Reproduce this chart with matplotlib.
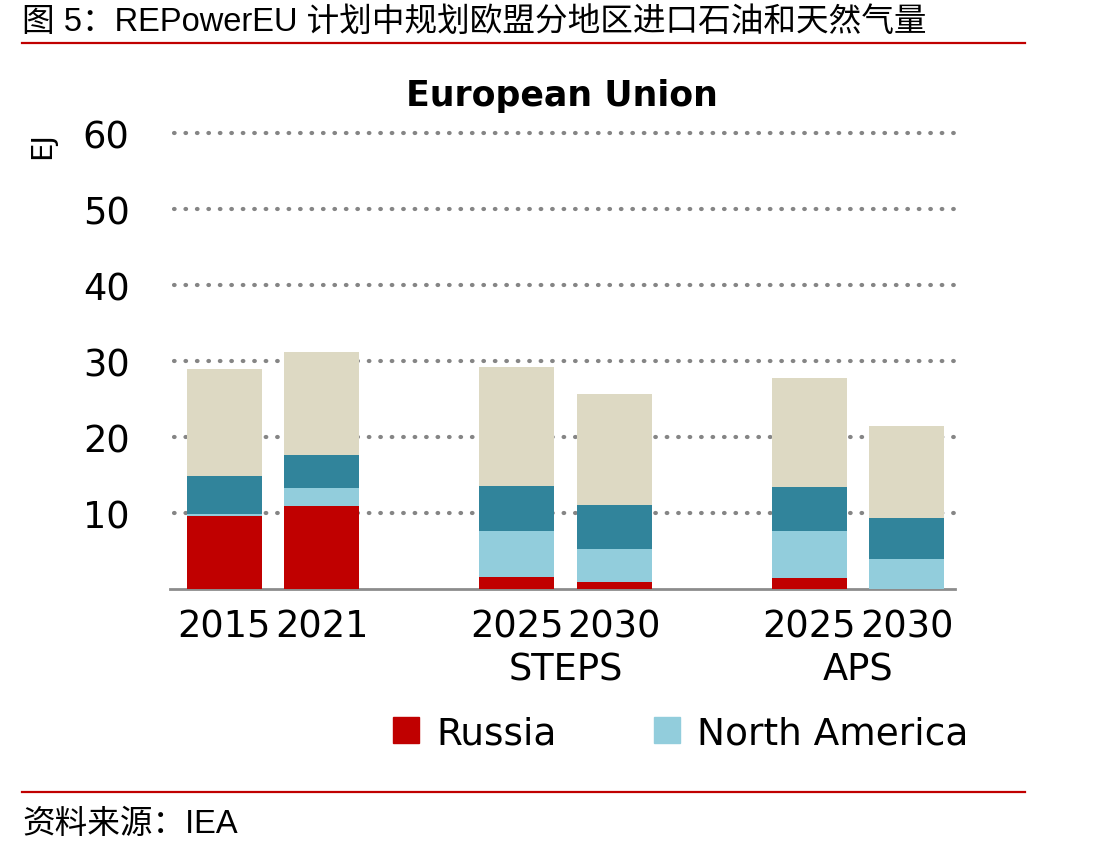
import matplotlib.pyplot as plt
from matplotlib.lines import Line2D
from matplotlib.patches import Patch

# data (EJ)
years = ["2015", "2021", "2025", "2030", "2025", "2030"]
groups = ["", "", "STEPS", "", "APS", ""]
xpos = [0, 1, 3, 4, 6, 7]
russia = [9.6, 10.9, 1.6, 0.9, 1.4, 0.0]
north_america = [0.3, 2.4, 6.0, 4.4, 6.2, 3.9]
other1 = [5.0, 4.3, 6.0, 5.8, 5.8, 5.4]
other2 = [14.0, 13.6, 15.6, 14.6, 14.4, 12.1]

c_russia = "#C00000"
c_na = "#92CDDC"
c_o1 = "#31849B"
c_o2 = "#DDD9C3"

plt.rcParams["font.family"] = ["DejaVu Sans"]

fig = plt.figure(figsize=(10.96, 8.54), dpi=100)
ax = fig.add_axes([0.155, 0.309, 0.716, 0.534])

w = 0.77
b1 = [r + n for r, n in zip(russia, north_america)]
b2 = [b + o for b, o in zip(b1, other1)]
ax.bar(xpos, russia, w, color=c_russia, zorder=3)
ax.bar(xpos, north_america, w, bottom=russia, color=c_na, zorder=3)
ax.bar(xpos, other1, w, bottom=b1, color=c_o1, zorder=3)
ax.bar(xpos, other2, w, bottom=b2, color=c_o2, zorder=3)

ax.set_xlim(-0.56, 7.49)
ax.set_ylim(0, 60)
ax.set_yticks([10, 20, 30, 40, 50, 60])
for v in [10, 20, 30, 40, 50, 60]:
    ax.axhline(v, color="#858585", linewidth=3.0, linestyle=(0, (0.15, 2.6)),
               dash_capstyle="round", zorder=1, xmin=0.005, xmax=1.0,
               clip_on=False)
ax.tick_params(axis="y", length=0, labelsize=26.5, pad=29)
ax.tick_params(axis="x", length=0, labelsize=26.5, pad=13)
ax.set_xticks(xpos)
ax.set_xticklabels(years)
for s in ["top", "right", "left"]:
    ax.spines[s].set_visible(False)
ax.spines["bottom"].set_color("#8c8c8c")
ax.spines["bottom"].set_linewidth(2)

for x, g in zip(xpos, groups):
    if g:
        ax.text(x + 0.5, -0.175, g, transform=ax.get_xaxis_transform(),
                ha="center", va="center", fontsize=26.5)

ax.set_title("European Union", fontsize=25, fontweight="bold", pad=20)
fig.text(0.038, 0.83, "EJ", rotation=90, fontsize=21, ha="center", va="center")

handles = [Patch(color=c_russia), Patch(color=c_na)]
fig.legend(handles, ["Russia", "North America"], loc="center",
           bbox_to_anchor=(0.621, 0.14), ncol=2, frameon=False, fontsize=27,
           handlelength=0.7, handleheight=0.7, handletextpad=0.45,
           columnspacing=2.6)

# header and footer
cjk = ["Liberation Sans", "Noto Sans CJK SC", "DejaVu Sans"]
fig.text(0.02, 0.974, "图 5：REPowerEU 计划中规划欧盟分地区进口石油和天然气量",
         fontsize=23.5, ha="left", va="center", family=cjk)
fig.add_artist(Line2D([0.02, 0.935], [0.948, 0.948], color="#C00000",
                      linewidth=1.6, transform=fig.transFigure))
fig.add_artist(Line2D([0.02, 0.935], [0.071, 0.071], color="#C00000",
                      linewidth=1.6, transform=fig.transFigure))
fig.text(0.02, 0.034, "资料来源：IEA", fontsize=23.5, ha="left", va="center",
         family=cjk)

fig.savefig("out.png", dpi=100)
